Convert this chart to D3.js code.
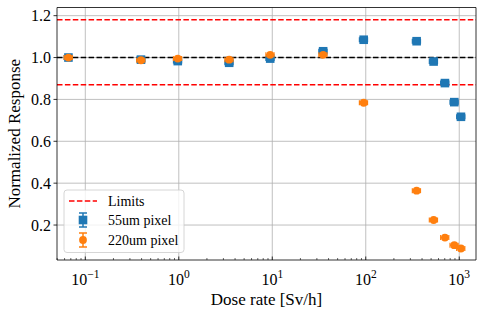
<!DOCTYPE html>
<html>
<head>
<meta charset="utf-8">
<script src="https://cdn.jsdelivr.net/npm/d3@7"></script>
<style>
  body { margin: 0; background: #fff; }
</style>
</head>
<body>
<svg id="chart" width="484" height="316" font-family="Liberation Serif, serif"></svg>
<script>
// dose rates [Sv/h]
const doseRate = [0.066, 0.394, 0.975, 3.46, 9.5, 35, 95, 350, 532, 703, 885, 1043];
const resp55 = [1.0, 0.99, 0.983, 0.975, 0.995, 1.03, 1.085, 1.078, 0.981, 0.878, 0.787, 0.717];
const resp220 = [1.0, 0.987, 0.995, 0.99, 1.013, 1.013, 0.784, 0.364, 0.224, 0.14, 0.104, 0.088];
const doseErrFrac = 0.1;
const limits = [1.18, 0.87];
const yTicks = [0.2, 0.4, 0.6, 0.8, 1.0, 1.2];
const xTicks = [0.1, 1, 10, 100, 1000];
const legendLabels = ["Limits", "55um pixel", "220um pixel"];

const blue = "#1f77b4", orange = "#ff7f0e";
const m = { left: 57, right: 8, top: 7.5, bottom: 56 };
const W = 484, H = 316;

const svg = d3.select("#chart");
const x = d3.scaleLog().domain([0.0498, 1511]).range([m.left, W - m.right]);
const y = d3.scaleLinear().domain([0.033, 1.239]).range([H - m.bottom, m.top]);

// grid
const grid = svg.append("g").attr("stroke", "#b0b0b0").attr("stroke-width", 0.8);
xTicks.forEach(t => grid.append("line").attr("x1", x(t)).attr("x2", x(t))
  .attr("y1", m.top).attr("y2", H - m.bottom));
yTicks.forEach(t => grid.append("line").attr("y1", y(t)).attr("y2", y(t))
  .attr("x1", m.left).attr("x2", W - m.right));

// reference lines
limits.forEach(v => svg.append("line")
  .attr("x1", m.left).attr("x2", W - m.right).attr("y1", y(v)).attr("y2", y(v))
  .attr("stroke", "red").attr("stroke-width", 1.5).attr("stroke-dasharray", "5.5,2.4"));
svg.append("line")
  .attr("x1", m.left).attr("x2", W - m.right).attr("y1", y(1)).attr("y2", y(1))
  .attr("stroke", "black").attr("stroke-width", 1.5).attr("stroke-dasharray", "5.5,2.4");

function drawSeries(vals, color, shape) {
  const g = svg.append("g");
  doseRate.forEach((d, i) => {
    const cx = x(d), cy = y(vals[i]);
    const x0 = x(d * (1 - doseErrFrac)), x1 = x(d * (1 + doseErrFrac));
    g.append("line").attr("x1", x0).attr("x2", x1).attr("y1", cy).attr("y2", cy)
      .attr("stroke", color).attr("stroke-width", 1.5);
    [x0, x1].forEach(xx => g.append("line").attr("x1", xx).attr("x2", xx)
      .attr("y1", cy - 2.5).attr("y2", cy + 2.5).attr("stroke", color).attr("stroke-width", 1.2));
    if (shape === "square") {
      g.append("rect").attr("x", cx - 4.3).attr("y", cy - 4.3).attr("width", 8.6).attr("height", 8.6)
        .attr("fill", color);
    } else {
      g.append("circle").attr("cx", cx).attr("cy", cy).attr("r", 3.9).attr("fill", color);
    }
  });
}
drawSeries(resp55, blue, "square");
drawSeries(resp220, orange, "circle");

// axes
const xAxis = svg.append("g").attr("transform", `translate(0,${H - m.bottom})`);
xAxis.append("line").attr("x1", m.left).attr("x2", W - m.right).attr("stroke", "black").attr("stroke-width", 0.8);
const minor = [];
for (let e = -2; e <= 3; e++) for (let k = 2; k <= 9; k++) {
  const v = k * Math.pow(10, e);
  if (v > x.domain()[0] && v < x.domain()[1]) minor.push(v);
}
minor.forEach(v => xAxis.append("line").attr("x1", x(v)).attr("x2", x(v)).attr("y1", 0).attr("y2", -2)
  .attr("stroke", "black").attr("stroke-width", 0.6));
xTicks.forEach(t => {
  xAxis.append("line").attr("x1", x(t)).attr("x2", x(t)).attr("y1", 0).attr("y2", -3.5)
    .attr("stroke", "black").attr("stroke-width", 0.8);
  const txt = xAxis.append("text").attr("x", x(t)).attr("y", 25).attr("text-anchor", "middle")
    .attr("font-size", 16);
  txt.append("tspan").text("10");
  txt.append("tspan").attr("dy", -7).attr("font-size", 11.5).text(String(Math.round(Math.log10(t))).replace("-", "\u2212"));
});

const yAxis = svg.append("g").attr("transform", `translate(${m.left},0)`);
yAxis.append("line").attr("y1", m.top).attr("y2", H - m.bottom).attr("stroke", "black").attr("stroke-width", 0.8);
yTicks.forEach(t => {
  yAxis.append("line").attr("x1", 0).attr("x2", -3.5).attr("y1", y(t)).attr("y2", y(t))
    .attr("stroke", "black").attr("stroke-width", 0.8);
  yAxis.append("text").attr("x", -6).attr("y", y(t)).attr("dy", "0.35em").attr("text-anchor", "end")
    .attr("font-size", 16).text(t.toFixed(1));
});
// top/right spines
svg.append("line").attr("x1", m.left).attr("x2", W - m.right).attr("y1", m.top).attr("y2", m.top)
  .attr("stroke", "black").attr("stroke-width", 0.8);
svg.append("line").attr("x1", W - m.right).attr("x2", W - m.right).attr("y1", m.top).attr("y2", H - m.bottom)
  .attr("stroke", "black").attr("stroke-width", 0.8);

// axis labels
svg.append("text").attr("x", (m.left + W - m.right) / 2).attr("y", 305).attr("text-anchor", "middle")
  .attr("font-size", 17).text("Dose rate [Sv/h]");
svg.append("text").attr("transform", `translate(20,${(m.top + H - m.bottom) / 2}) rotate(-90)`)
  .attr("text-anchor", "middle").attr("font-size", 17).text("Normalized Response");

// legend
const lg = svg.append("g").attr("transform", "translate(64,190)");
lg.append("rect").attr("width", 120).attr("height", 62.5).attr("rx", 3)
  .attr("fill", "white").attr("fill-opacity", 0.8).attr("stroke", "#cccccc").attr("stroke-width", 0.8);
lg.append("line").attr("x1", 5).attr("x2", 33).attr("y1", 11).attr("y2", 11)
  .attr("stroke", "red").attr("stroke-width", 1.5).attr("stroke-dasharray", "5.5,2.4");
[[blue, "square"], [orange, "circle"]].forEach(([c, s], i) => {
  const cy = 30 + i * 20, cx = 19;
  lg.append("line").attr("x1", cx).attr("x2", cx).attr("y1", cy - 7).attr("y2", cy + 7).attr("stroke", c).attr("stroke-width", 1.5);
  [cy - 7, cy + 7].forEach(yy => lg.append("line").attr("x1", cx - 4).attr("x2", cx + 4).attr("y1", yy).attr("y2", yy)
    .attr("stroke", c).attr("stroke-width", 1.5));
  if (s === "square") lg.append("rect").attr("x", cx - 4.3).attr("y", cy - 4.3).attr("width", 8.6).attr("height", 8.6).attr("fill", c);
  else lg.append("circle").attr("cx", cx).attr("cy", cy).attr("r", 3.9).attr("fill", c);
});
legendLabels.forEach((l, i) => lg.append("text").attr("x", 44).attr("y", 11 + i * 19.5).attr("dy", "0.35em")
  .attr("font-size", 14).text(l));
</script>
</body>
</html>
